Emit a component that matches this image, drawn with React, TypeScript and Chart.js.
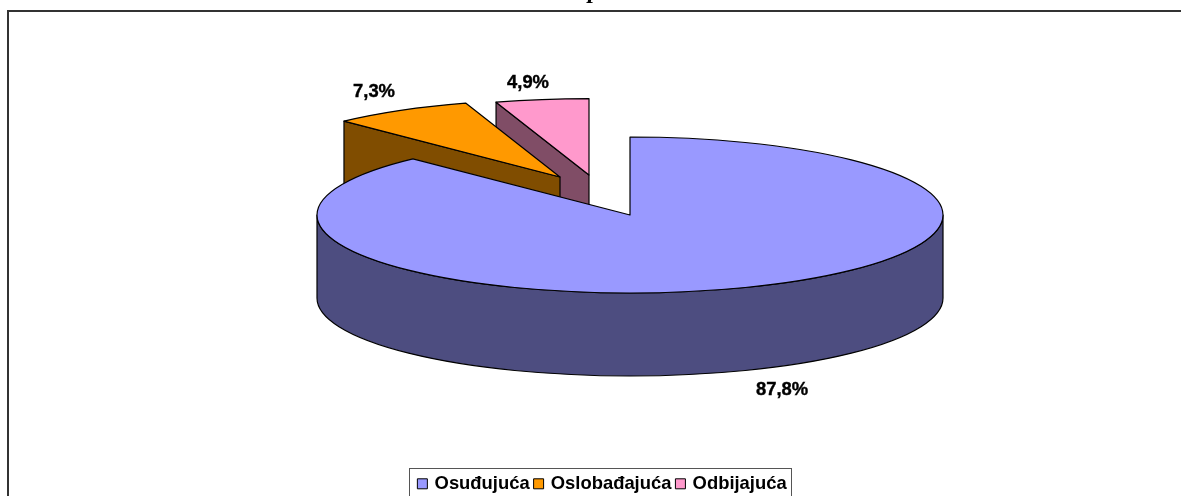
import React, { useEffect, useRef } from "react";
import { Chart, registerables } from "chart.js";

Chart.register(...registerables);

const categories = ["Osuđujuća", "Oslobađajuća", "Odbijajuća"];
const shares = [87.8, 7.3, 4.9];
const topColors = ["#9999FF", "#FF9900", "#FF99CC"];
const wallColors = ["#4D4D80", "#804D00", "#804D66"];
const sliceCentres = [
  [630, 215],
  [560, 177],
  [589, 175],
];
const sliceScales = [1, 0.995, 0.98];
const labelCentres = [
  [782, 390],
  [374, 92],
  [528, 83],
];
const titleText = "p";

const RADIUS = 313;
const TILT = 78 / 313;
const DEPTH = 83;
const TAU = Math.PI * 2;
const FONT = "'Liberation Sans', Arial, sans-serif";

const pie3d = {
  id: "pie3d",
  beforeDraw(chart: any) {
    const ctx = chart.ctx;
    ctx.save();
    ctx.fillStyle = "#FFFFFF";
    ctx.fillRect(0, 0, chart.width, chart.height);
    ctx.strokeStyle = "#333333";
    ctx.lineWidth = 2;
    ctx.strokeRect(8, 11, 1300, 600);
    ctx.lineWidth = 1;
    ctx.strokeStyle = "#555555";
    ctx.strokeRect(409.5, 468.5, 382, 40);
    ctx.fillStyle = "#000000";
    ctx.font = "italic bold 24px 'Liberation Serif', serif";
    ctx.textAlign = "center";
    ctx.textBaseline = "alphabetic";
    ctx.fillText(titleText, 594, -2);
    ctx.restore();
  },
  beforeDatasetsDraw(chart: any) {
    const ctx = chart.ctx;
    const arcs = chart.getDatasetMeta(0).data;
    for (let i = arcs.length - 1; i >= 0; i--) {
      const arc = arcs[i];
      const { x, y, startAngle, endAngle, outerRadius } = arc.getProps(
        ["x", "y", "startAngle", "endAngle", "outerRadius"],
        true
      );
      const [cx, cy] = sliceCentres[i];
      const rx = outerRadius * sliceScales[i];
      const ry = rx * TILT;
      const start = ((startAngle % TAU) + TAU) % TAU;

      ctx.save();
      ctx.lineWidth = 1.2;
      ctx.lineJoin = "round";
      ctx.strokeStyle = "#000000";
      ctx.fillStyle = wallColors[i];

      if (start > Math.PI && start < Math.PI * 1.5) {
        const px = cx + Math.cos(startAngle) * rx;
        const py = cy + Math.sin(startAngle) * ry;
        ctx.beginPath();
        ctx.moveTo(cx, cy);
        ctx.lineTo(px, py);
        ctx.lineTo(px, py + DEPTH);
        ctx.lineTo(cx, cy + DEPTH);
        ctx.closePath();
        ctx.fill();
        ctx.stroke();
      }
      const lo = Math.max(startAngle, 0);
      const hi = Math.min(endAngle, Math.PI);
      if (hi > lo) {
        ctx.beginPath();
        ctx.ellipse(cx, cy, rx, ry, 0, lo, hi);
        ctx.ellipse(cx, cy + DEPTH, rx, ry, 0, hi, lo, true);
        ctx.closePath();
        ctx.fill();
        ctx.stroke();
      }

      ctx.save();
      ctx.translate(cx, cy);
      ctx.scale(sliceScales[i], sliceScales[i] * TILT);
      ctx.translate(-x, -y);
      arc.draw(ctx);
      ctx.restore();

      ctx.beginPath();
      ctx.moveTo(cx, cy);
      ctx.ellipse(cx, cy, rx, ry, 0, startAngle, endAngle);
      ctx.closePath();
      ctx.stroke();
      ctx.restore();
    }

    ctx.save();
    ctx.fillStyle = "#000000";
    ctx.strokeStyle = "#000000";
    ctx.lineWidth = 0.4;
    ctx.font = `bold 18.4px ${FONT}`;
    ctx.textAlign = "center";
    ctx.textBaseline = "middle";
    shares.forEach((v, i) => {
      const t = `${v.toFixed(1).replace(".", ",")}%`;
      ctx.fillText(t, labelCentres[i][0], labelCentres[i][1]);
      ctx.strokeText(t, labelCentres[i][0], labelCentres[i][1]);
    });
    ctx.restore();
    return false;
  },
};

export default function App() {
  const ref = useRef<HTMLCanvasElement | null>(null);
  useEffect(() => {
    if (!ref.current) return;
    const chart = new Chart(ref.current, {
      type: "pie",
      data: {
        labels: categories,
        datasets: [
          {
            data: shares,
            backgroundColor: topColors,
            borderWidth: 0,
            radius: RADIUS,
          } as any,
        ],
      },
      options: {
        responsive: false,
        animation: false,
        layout: { padding: { left: 25, bottom: -7 } },
        plugins: {
          tooltip: { enabled: false },
          legend: {
            display: true,
            position: "bottom",
            labels: {
              usePointStyle: true,
              pointStyle: "rect",
              boxWidth: 6,
              boxHeight: 10,
              padding: 6,
              color: "#000000",
              font: { family: FONT, weight: "bold", size: 18.4 },
              generateLabels: () =>
                categories.map((text, index) => ({
                  text,
                  index,
                  fillStyle: topColors[index],
                  strokeStyle: "#000000",
                  lineWidth: 1,
                  pointStyle: "rect",
                  hidden: false,
                })),
            },
          },
        },
      },
      plugins: [pie3d],
    } as any);
    return () => chart.destroy();
  }, []);
  return (
    <canvas
      ref={ref}
      width={1181}
      height={496}
      style={{ display: "block", position: "absolute", left: 0, top: 0 }}
    />
  );
}
